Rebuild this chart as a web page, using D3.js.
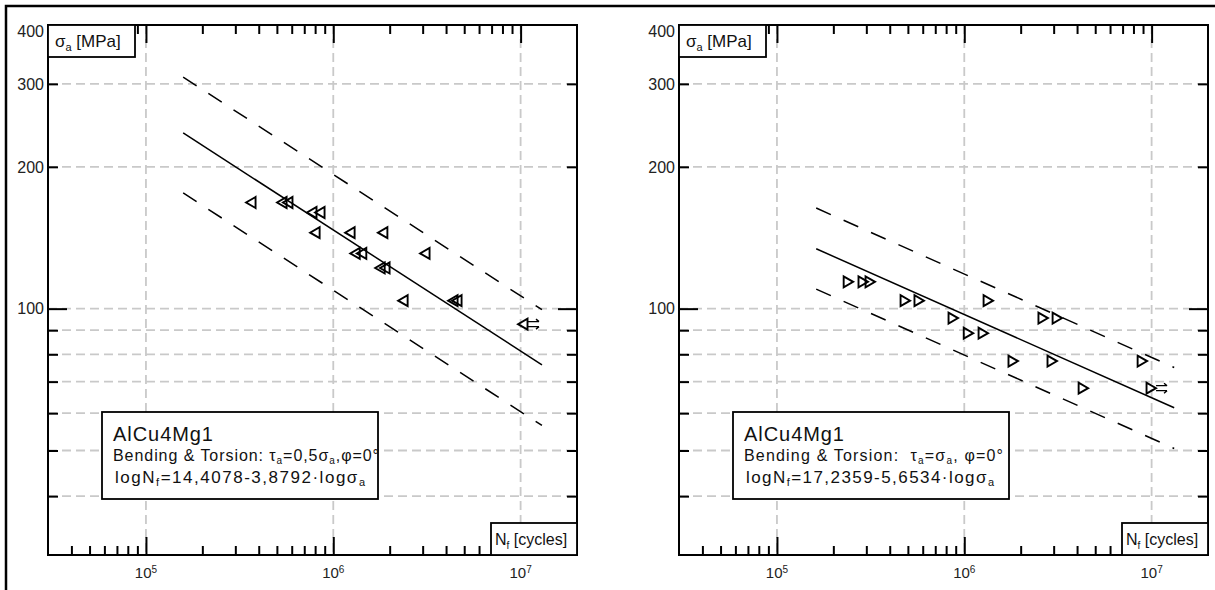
<!DOCTYPE html>
<html><head><meta charset="utf-8">
<script src="https://cdn.jsdelivr.net/npm/d3@7/dist/d3.min.js"></script>
<style>
body{margin:0;background:#fff;}
svg{display:block;font-family:"Liberation Sans",Arial,sans-serif;}
</style></head>
<body>
<svg id="chart" width="1215" height="590"></svg>
<script>
// ---------- data ----------
const xDomain = [3e4, 2e7];
const yDomain = [30, 400];
const xMajorTicks = [1e5, 1e6, 1e7];
const xMajorLabels = ["5", "6", "7"];
const xMinorTicks = [4e4,5e4,6e4,7e4,8e4,9e4,2e5,3e5,4e5,5e5,6e5,7e5,8e5,9e5,2e6,3e6,4e6,5e6,6e6,7e6,8e6,9e6];
const yLabeledTicks = [400, 300, 200, 100];
const yMinorTicks = [90, 80, 70, 60, 50, 40];
const yGridValues = [300, 200, 100, 90, 80, 70, 60, 50, 40];

// left panel: bending & torsion tau_a = 0.5 sigma_a
const leftN = [3.64e5, 5.33e5, 5.73e5, 7.70e5, 8.50e5, 8.0e5, 1.23e6, 1.84e6, 1.31e6, 1.42e6, 3.09e6, 1.78e6, 1.89e6, 2.36e6, 4.36e6, 4.58e6, 1.03e7];
const leftS = [168, 168, 168, 160, 160, 145, 145, 145, 131, 131, 131, 122, 122, 104, 104, 104, 92.7];
const leftRunout = [0,0,0,0,0,0,0,0,0,0,0,0,0,0,0,0,1];
const leftFitN = [1.58e5, 1.30e7];
const leftFitS = [236, 76];
const leftUpperS = [310, 99.5];
const leftLowerS = [176, 56.5];

// right panel: bending & torsion tau_a = sigma_a
const rightN = [2.40e5, 2.88e5, 3.14e5, 4.83e5, 5.73e5, 8.71e5, 1.05e6, 1.26e6, 1.34e6, 1.82e6, 2.63e6, 3.13e6, 2.94e6, 4.31e6, 8.9e6, 9.93e6];
const rightS = [114, 114, 114, 104, 104, 95.5, 88.7, 88.7, 104, 77.4, 95.5, 95.5, 77.4, 67.8, 77.4, 67.8];
const rightRunout = [0,0,0,0,0,0,0,0,0,0,0,0,0,0,0,1];
const rightFitN = [1.62e5, 1.32e7];
const rightFitS = [134, 61.6];
const rightUpperS = [163.5, 75];
const rightLowerS = [110, 50.5];

const leftLegend = ["AlCu4Mg1", "Bending & Torsion: τ|a|=0,5σ|a|,φ=0°", "logN|f|=14,4078-3,8792·logσ|a|"];
const rightLegend = ["AlCu4Mg1", "Bending & Torsion:  τ|a|=σ|a|, φ=0°", "logN|f|=17,2359-5,6534·logσ|a|"];

// ---------- layout ----------
const svg = d3.select("#chart");
const TOP = 25, BOT = 555, PW = 529;
const panels = [
  {x0: 48, N: leftN, S: leftS, run: leftRunout, dir: -1, fitN: leftFitN, fitS: leftFitS, up: leftUpperS, lo: leftLowerS, legend: leftLegend, w2: 266, w3: 250},
  {x0: 679, N: rightN, S: rightS, run: rightRunout, dir: 1, fitN: rightFitN, fitS: rightFitS, up: rightUpperS, lo: rightLowerS, legend: rightLegend, w2: 259, w3: 248}
];

// outer frame
svg.append("path").attr("d", "M6,590V6H1215").attr("fill", "none").attr("stroke", "#000").attr("stroke-width", 2.5);

function richText(sel, str, subSize, subDy) {
  const parts = str.split("|");
  parts.forEach((p, i) => {
    if (p === "") return;
    const t = sel.append("tspan").text(p);
    if (i % 2 === 1) { t.attr("font-size", subSize).attr("dy", subDy); }
    else if (i > 0) { t.attr("dy", -subDy); }
  });
}
function fitWidth(sel, target) {
  const node = sel.node();
  const w = node.getComputedTextLength();
  const n = node.textContent.length;
  if (n > 1) sel.style("letter-spacing", ((target - w) / (n - 1)) + "px");
}

panels.forEach((p, pi) => {
  const x = d3.scaleLog().domain(xDomain).range([p.x0, p.x0 + PW]);
  const y = d3.scaleLog().domain(yDomain).range([BOT, TOP]);
  const g = svg.append("g");
  const clipId = "clip" + pi;
  g.append("clipPath").attr("id", clipId).append("rect").attr("x", p.x0).attr("y", TOP).attr("width", PW).attr("height", BOT - TOP);

  // grid
  const grid = g.append("g").attr("stroke", "#c9c9c9").attr("stroke-width", 1.8).attr("stroke-dasharray", "9,5");
  grid.selectAll("line.h").data(yGridValues).join("line").attr("class", "h")
    .attr("x1", p.x0).attr("x2", p.x0 + PW).attr("y1", d => y(d)).attr("y2", d => y(d));
  grid.selectAll("line.v").data(xMajorTicks).join("line").attr("class", "v")
    .attr("y1", TOP).attr("y2", BOT).attr("x1", d => x(d)).attr("x2", d => x(d));

  // fit and scatter band lines
  const line = d3.line().x(d => x(d[0])).y(d => y(d[1]));
  const lines = g.append("g").attr("clip-path", `url(#${clipId})`).attr("fill", "none").attr("stroke", "#000");
  lines.append("path").attr("d", line(p.fitN.map((n, i) => [n, p.fitS[i]]))).attr("stroke-width", 1.5);
  [p.up, p.lo].forEach(arr => {
    lines.append("path").attr("d", line(p.fitN.map((n, i) => [n, arr[i]])))
      .attr("stroke-width", 1.5).attr("stroke-dasharray", "16,14");
  });

  // markers
  const mk = g.append("g").attr("fill", "none").attr("stroke", "#000").attr("stroke-width", 1.9).attr("stroke-linejoin", "miter");
  p.N.forEach((n, i) => {
    const cx = x(n), cy = y(p.S[i]);
    const d = p.dir;
    const tri = `M${cx - 4.5 * d},${cy - 5.5}L${cx - 4.5 * d},${cy + 5.5}L${cx + 5 * d},${cy}Z`;
    mk.append("path").attr("d", tri);
    if (p.run[i]) {
      const sx = cx + 5, ex = cx + 16;
      mk.append("path").attr("stroke-width", 1.4)
        .attr("d", `M${sx},${cy - 2.5}H${ex}M${ex - 3},${cy - 5}L${ex},${cy - 2.5}M${sx},${cy + 2.5}H${ex}M${ex - 3},${cy + 5}L${ex},${cy + 2.5}`);
    }
  });

  // plot border
  g.append("rect").attr("x", p.x0).attr("y", TOP).attr("width", PW).attr("height", BOT - TOP)
    .attr("fill", "none").attr("stroke", "#000").attr("stroke-width", 2);

  // ticks via axes (inward)
  const tickStyle = s => s.call(a => a.select(".domain").remove()).selectAll("line").attr("stroke", "#000").attr("stroke-width", 2);
  g.append("g").attr("transform", `translate(0,${BOT})`)
    .call(d3.axisBottom(x).tickValues(xMinorTicks).tickSizeInner(-9).tickSizeOuter(0).tickFormat("")).call(tickStyle);
  g.append("g").attr("transform", `translate(0,${BOT})`)
    .call(d3.axisBottom(x).tickValues(xMajorTicks).tickSizeInner(-18).tickSizeOuter(0).tickFormat("")).call(tickStyle);
  g.append("g").attr("transform", `translate(0,${TOP})`)
    .call(d3.axisTop(x).tickValues(xMinorTicks).tickSizeInner(-9).tickSizeOuter(0).tickFormat("")).call(tickStyle);
  g.append("g").attr("transform", `translate(0,${TOP})`)
    .call(d3.axisTop(x).tickValues(xMajorTicks).tickSizeInner(-18).tickSizeOuter(0).tickFormat("")).call(tickStyle);
  const yShort = [300, 200].concat(yMinorTicks);
  g.append("g").attr("transform", `translate(${p.x0},0)`)
    .call(d3.axisLeft(y).tickValues(yShort).tickSizeInner(-10).tickSizeOuter(0).tickFormat("")).call(tickStyle);
  g.append("g").attr("transform", `translate(${p.x0},0)`)
    .call(d3.axisLeft(y).tickValues([100]).tickSizeInner(-19).tickSizeOuter(0).tickFormat("")).call(tickStyle);
  g.append("g").attr("transform", `translate(${p.x0 + PW},0)`)
    .call(d3.axisRight(y).tickValues(yShort).tickSizeInner(-10).tickSizeOuter(0).tickFormat("")).call(tickStyle);
  g.append("g").attr("transform", `translate(${p.x0 + PW},0)`)
    .call(d3.axisRight(y).tickValues([100]).tickSizeInner(-19).tickSizeOuter(0).tickFormat("")).call(tickStyle);

  // tick labels
  yLabeledTicks.forEach(v => {
    g.append("text").attr("x", p.x0 - 4).attr("y", v === 400 ? y(v) + 6 : y(v)).attr("dy", "0.36em")
      .attr("text-anchor", "end").attr("font-size", 16).attr("fill", "#222").text(v);
  });
  xMajorTicks.forEach((v, i) => {
    const t = g.append("text").attr("x", x(v)).attr("y", 578).attr("text-anchor", "middle")
      .attr("font-size", 15).attr("fill", "#222");
    t.append("tspan").text("10");
    t.append("tspan").attr("font-size", 10).attr("dy", -5).text(xMajorLabels[i]);
  });

  // y label box
  g.append("rect").attr("x", p.x0).attr("y", TOP).attr("width", 87).attr("height", 32)
    .attr("fill", "#fff").attr("stroke", "#000").attr("stroke-width", 1.8);
  const yl = g.append("text").attr("x", p.x0 + 7).attr("y", 47).attr("font-size", 17).attr("fill", "#111")
    .style("white-space", "pre");
  richText(yl, "σ|a| [MPa]", 11, 4);

  // x label box
  g.append("rect").attr("x", p.x0 + 443).attr("y", 523).attr("width", 86).attr("height", 32)
    .attr("fill", "#fff").attr("stroke", "#000").attr("stroke-width", 1.8);
  const xl = g.append("text").attr("x", p.x0 + 447).attr("y", 545).attr("font-size", 16).attr("fill", "#111")
    .style("white-space", "pre");
  richText(xl, "N|f| [cycles]", 10, 4);

  // legend box
  g.append("rect").attr("x", p.x0 + 54).attr("y", 412).attr("width", 276).attr("height", 87)
    .attr("fill", "#fff").attr("stroke", "#000").attr("stroke-width", 1.8);
  const t1 = g.append("text").attr("x", p.x0 + 65).attr("y", 441).attr("font-size", 20).attr("fill", "#111").text(p.legend[0]);
  fitWidth(t1, 100);
  const t2 = g.append("text").attr("x", p.x0 + 65).attr("y", 461).attr("font-size", 16).attr("fill", "#111").style("white-space", "pre");
  richText(t2, p.legend[1], 10, 3);
  fitWidth(t2, p.w2);
  const t3 = g.append("text").attr("x", p.x0 + 67).attr("y", 483).attr("font-size", 17).attr("fill", "#111");
  richText(t3, p.legend[2], 11, 3);
  fitWidth(t3, p.w3);
});
</script>
</body></html>
